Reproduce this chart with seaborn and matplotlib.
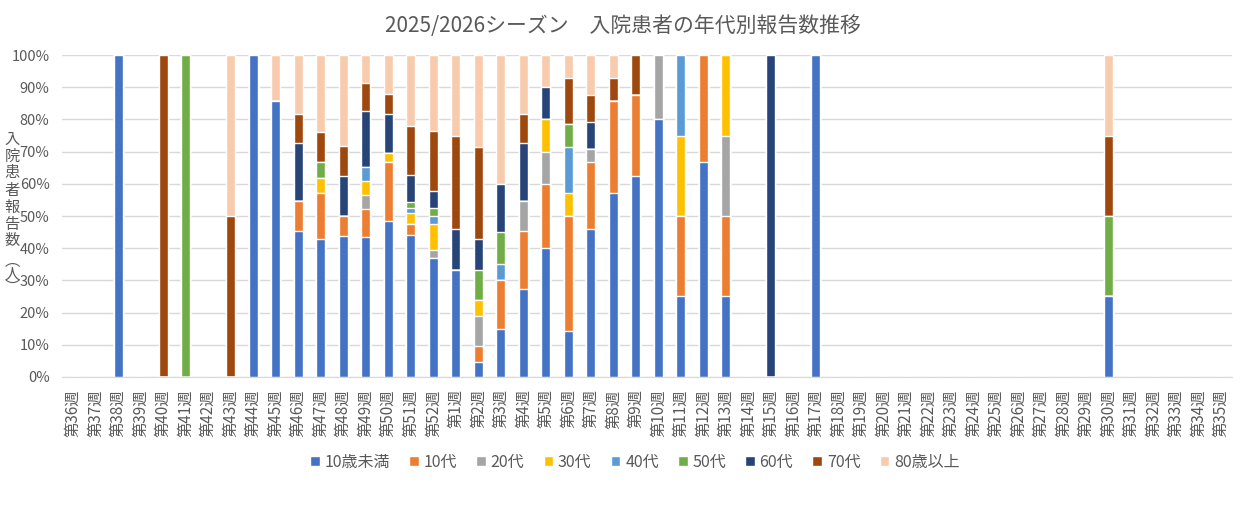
import numpy as np
import pandas as pd
import matplotlib.pyplot as plt
import seaborn as sns
from matplotlib.ticker import PercentFormatter

# weeks of the season: 36..52 then 1..35
week_nums = list(range(36, 53)) + list(range(1, 36))
weeks = [f"第{w}週" for w in week_nums]

age_groups = ["10歳未満", "10代", "20代", "30代", "40代", "50代", "60代", "70代", "80歳以上"]
colors = ["#4472C4", "#ED7D31", "#A5A5A5", "#FFC000", "#5B9BD5",
          "#70AD47", "#264478", "#9E480E", "#F8CBAD"]

# reported counts per week (wk36-52 | wk1-17 | wk18-29 | wk30 | wk31-35)
z12 = [0] * 12
z5 = [0] * 5
u10 = [0, 0, 1, 0, 0, 0, 0, 0, 1, 6, 5, 9, 14, 10, 16, 26, 14,
       8, 1, 3, 3, 4, 2, 11, 8, 5, 4, 1, 2, 1, 0, 0, 0, 1] + z12 + [1] + z5
a10 = [0, 0, 0, 0, 0, 0, 0, 0, 0, 0, 1, 3, 2, 2, 6, 2, 0,
       0, 1, 3, 2, 2, 5, 5, 4, 2, 0, 1, 1, 1, 0, 0, 0, 0] + z12 + [0] + z5
a20 = [0, 0, 0, 0, 0, 0, 0, 0, 0, 0, 0, 0, 0, 1, 0, 0, 1,
       0, 2, 0, 1, 1, 0, 1, 0, 0, 1, 0, 0, 1, 0, 0, 0, 0] + z12 + [0] + z5
a30 = [0, 0, 0, 0, 0, 0, 0, 0, 0, 0, 0, 1, 0, 1, 1, 2, 3,
       0, 1, 0, 0, 1, 1, 0, 0, 0, 0, 1, 0, 1, 0, 0, 0, 0] + z12 + [0] + z5
a40 = [0, 0, 0, 0, 0, 0, 0, 0, 0, 0, 0, 0, 0, 1, 0, 1, 1,
       0, 0, 1, 0, 0, 2, 0, 0, 0, 0, 1, 0, 0, 0, 0, 0, 0] + z12 + [0] + z5
a50 = [0, 0, 0, 0, 0, 1, 0, 0, 0, 0, 0, 1, 0, 0, 0, 1, 1,
       0, 2, 2, 0, 0, 1, 0, 0, 0, 0, 0, 0, 0, 0, 0, 0, 0] + z12 + [1] + z5
a60 = [0, 0, 0, 0, 0, 0, 0, 0, 0, 0, 2, 0, 4, 4, 4, 5, 2,
       3, 2, 3, 2, 1, 0, 2, 0, 0, 0, 0, 0, 0, 0, 1, 0, 0] + z12 + [0] + z5
a70 = [0, 0, 0, 0, 1, 0, 0, 1, 0, 0, 1, 2, 3, 2, 2, 9, 7,
       7, 6, 0, 1, 0, 2, 2, 1, 1, 0, 0, 0, 0, 0, 0, 0, 0] + z12 + [1] + z5
a80 = [0, 0, 0, 0, 0, 0, 0, 1, 0, 1, 2, 5, 9, 2, 4, 13, 9,
       6, 6, 8, 2, 1, 1, 3, 1, 0, 0, 0, 0, 0, 0, 0, 0, 0] + z12 + [1] + z5

counts = pd.DataFrame(dict(zip(age_groups, [u10, a10, a20, a30, a40, a50, a60, a70, a80])),
                      index=weeks)
share = counts.div(counts.sum(axis=1), axis=0).fillna(0)
cum = share.cumsum(axis=1)

sns.set_style("white")
plt.rcParams['font.family'] = ['Noto Sans CJK JP', 'DejaVu Sans']
txt = "#595959"

fig = plt.figure(figsize=(12.45, 5.05), dpi=100)
ax = fig.add_axes([0.0498, 0.2535, 0.9398, 0.6375])

# draw cumulative layers from the top group down so each segment shows
for name, col in reversed(list(zip(age_groups, colors))):
    sns.barplot(x=weeks, y=cum[name].values, color=col, saturation=1,
                width=0.4, errorbar=None, label=name, ax=ax)

if ax.get_legend() is not None:
    ax.get_legend().remove()

ax.set_ylim(0, 1)
ax.set_xlim(-0.5, len(weeks) - 0.5)
ax.set_yticks(np.arange(0, 1.01, 0.1))
ax.yaxis.set_major_formatter(PercentFormatter(1.0, decimals=0))
ax.yaxis.grid(True, color="#D9D9D9", lw=1)
ax.set_axisbelow(True)
for s in ["top", "right", "left"]:
    ax.spines[s].set_visible(False)
ax.spines["bottom"].set_color("#D9D9D9")
ax.tick_params(axis="x", rotation=90, length=0, pad=9, labelsize=11, labelcolor=txt)
ax.tick_params(axis="y", length=0, pad=9, labelsize=10.5, labelcolor=txt)
ax.set_xlabel("")
ax.set_ylabel("")

# y label written upright, one character under another
fig.text(12 / 1245, 1 - 190 / 505, "\n".join("入院患者報告数"), ha="center", va="center",
         fontsize=11, color=txt, linespacing=1.0)
fig.text(12 / 1245, 1 - 274 / 505, "\n".join("︵人︶"), ha="center", va="center",
         fontsize=11, color=txt, linespacing=0.72)

fig.text(0.5, 1 - 26 / 505, "2025/2026シーズン　入院患者の年代別報告数推移",
         ha="center", va="center", fontsize=15, color=txt)

h, l = ax.get_legend_handles_labels()
fig.legend(h[::-1], l[::-1], loc="center", bbox_to_anchor=(0.51, 1 - 462 / 505), ncol=9,
           frameon=False, fontsize=11.5, labelcolor=txt, handlelength=0.6,
           handleheight=0.6, handletextpad=0.3, columnspacing=1.2)

fig.savefig("out.png", dpi=100)
